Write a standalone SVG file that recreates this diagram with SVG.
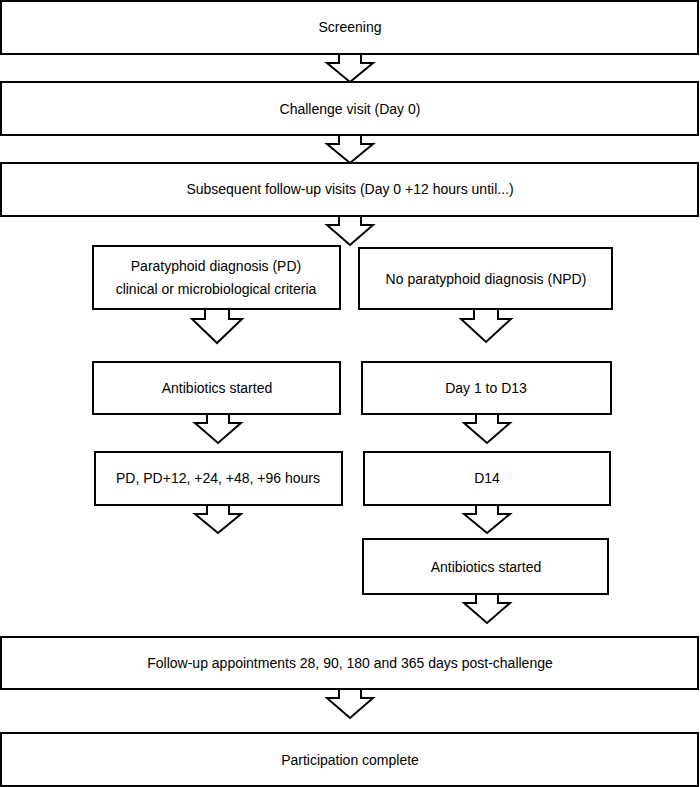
<svg xmlns="http://www.w3.org/2000/svg" width="700" height="787" viewBox="0 0 700 787">
<style>
.box{fill:#fff;stroke:#000;stroke-width:2}
.arr{fill:#fff;stroke:#000;stroke-width:2;stroke-linejoin:miter}
text{font-family:"Liberation Sans",Arial,sans-serif;font-size:14px;fill:#000;text-anchor:middle}
</style>
<rect width="700" height="787" fill="#fff"/>
<g id="connectors">
<path class="arr" d="M339,54 V63 H327 L350,82 L373,63 H361 V54"/>
<path class="arr" d="M339,135 V144 H327 L350,163 L373,144 H361 V135"/>
<path class="arr" d="M339,216 V225 H327 L350,245 L373,225 H361 V216"/>
<path class="arr" d="M205,309 V319 H192 L217,343 L242,319 H229 V309"/>
<path class="arr" d="M474,309 V319 H461 L486,342 L511,319 H498 V309"/>
<path class="arr" d="M207,414 V423 H195 L218,443 L241,423 H229 V414"/>
<path class="arr" d="M476,414 V423 H464 L487,443 L510,423 H498 V414"/>
<path class="arr" d="M207,505 V514 H195 L218,533 L241,514 H229 V505"/>
<path class="arr" d="M476,505 V514 H464 L487,533 L510,514 H498 V505"/>
<path class="arr" d="M476,594 V603 H464 L487,623 L510,603 H498 V594"/>
<path class="arr" d="M339,689 V698 H327 L350,718 L373,698 H361 V689"/>
</g>
<g id="screening"><rect class="box" x="1" y="1" width="697" height="53"/><text x="350" y="32">Screening</text></g>
<g id="challenge"><rect class="box" x="1" y="82" width="697" height="53"/><text x="350" y="114">Challenge visit (Day 0)</text></g>
<g id="followup-visits"><rect class="box" x="1" y="163" width="697" height="53"/><text x="350" y="194">Subsequent follow-up visits (Day 0 +12 hours until...)</text></g>
<g id="pd"><rect class="box" x="93" y="246" width="247" height="63"/><text x="216" y="271">Paratyphoid diagnosis (PD)</text><text x="216" y="294">clinical or microbiological criteria</text></g>
<g id="npd"><rect class="box" x="359" y="248" width="253" height="61"/><text x="486" y="284">No paratyphoid diagnosis (NPD)</text></g>
<g id="antibiotics-pd"><rect class="box" x="93" y="362" width="247" height="52"/><text x="217" y="393">Antibiotics started</text></g>
<g id="day1-13"><rect class="box" x="362" y="362" width="249" height="52"/><text x="486" y="393">Day 1 to D13</text></g>
<g id="pd-hours"><rect class="box" x="95" y="452" width="247" height="53"/><text x="218" y="483">PD, PD+12, +24, +48, +96 hours</text></g>
<g id="d14"><rect class="box" x="364" y="452" width="246" height="53"/><text x="487" y="483">D14</text></g>
<g id="antibiotics-npd"><rect class="box" x="363" y="539" width="245" height="55"/><text x="486" y="572">Antibiotics started</text></g>
<g id="followup-appts"><rect class="box" x="1" y="637" width="697" height="52"/><text x="350" y="668">Follow-up appointments 28, 90, 180 and 365 days post-challenge</text></g>
<g id="complete"><rect class="box" x="1" y="733" width="697" height="53"/><text x="350" y="765">Participation complete</text></g>
</svg>
